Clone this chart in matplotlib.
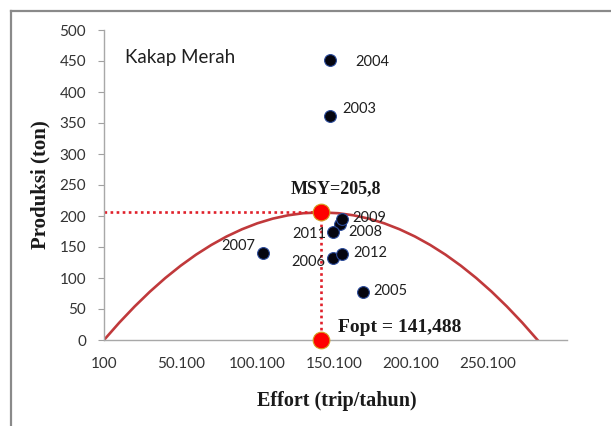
import matplotlib
matplotlib.use("Agg")
import matplotlib.pyplot as plt
from matplotlib.lines import Line2D

# observed catch vs effort per year
years = ["2003", "2004", "2005", "2006", "2007", "2008", "2009", "2011", "2012"]
effort = [147500, 147500, 169000, 149500, 103800, 154000, 155300, 149500, 155300]
produksi = [362, 452, 78, 133, 140, 187, 195, 175, 138]
label_offsets = [(12, 7), (25, -2), (10, 1), (-8, -4), (-8, 7), (8, -8), (10, 1), (-7, -2), (11, 1)]

# surplus production curve
curve_effort = [100, 10100, 20100, 30100, 40100, 50100, 60100, 70100, 80100, 90100,
                100100, 110100, 120100, 130100, 141488, 152876, 162876, 172876, 182876,
                192876, 202876, 212876, 222876, 232876, 242876, 252876, 262876, 272876, 282876]
curve_prod = [0, 28.1, 54.1, 78.1, 100.0, 119.8, 137.6, 153.3, 167.0, 178.6,
              188.2, 195.7, 201.1, 204.5, 205.8, 204.5, 201.1, 195.7, 188.2,
              178.6, 167.0, 153.3, 137.6, 119.8, 100.0, 78.1, 54.1, 28.1, 0]

fopt = 141488
msy = 205.8

xticks = [100, 50100, 100100, 150100, 200100, 250100]
xtick_labels = ["100", "50.100", "100.100", "150.100", "200.100", "250.100"]
yticks = list(range(0, 501, 50))

fig = plt.figure(figsize=(6.11, 4.26), dpi=100)
ax = fig.add_axes([104 / 611, 86 / 426, 463 / 611, 310 / 426])

ax.plot(curve_effort, curve_prod, color="#c0393b", lw=1.9, zorder=2)
ax.plot([100, fopt], [msy, msy], color="#e0202a", lw=1.9, ls=(0, (1, 1.3)), zorder=2)
ax.plot([fopt, fopt], [msy, 0], color="#e0202a", lw=1.9, ls=(0, (1, 1.3)), zorder=2)

ax.plot(effort, produksi, "o", ms=8.5, color="#05050f", mec="#2a4a9a", mew=0.8,
        ls="none", zorder=3)
ax.plot([fopt, fopt], [msy, 0], "o", ms=12, color="#ff0000", mec="#d4a020",
        mew=0.8, ls="none", zorder=4, clip_on=False)

for yr, x, y, off in zip(years, effort, produksi, label_offsets):
    ax.annotate(yr, (x, y), xytext=off, textcoords="offset pixels",
                ha="left" if off[0] > 0 else "right", va="center",
                fontsize=10.5, family="Lato", color="#1f1f1f")

serif_bold = dict(family="Liberation Serif", fontweight="bold", color="#1a1a1a")
ax.annotate("MSY=205,8", (fopt, msy), xytext=(15, 24), textcoords="offset pixels",
            ha="center", va="center", fontsize=13, **serif_bold)
ax.annotate("Fopt = 141,488", (fopt, 0), xytext=(17, 12), textcoords="offset pixels",
            ha="left", va="center", fontsize=14, **serif_bold)

ax.text(0.045, 0.91, "Kakap Merah", transform=ax.transAxes, fontsize=13.5,
        family="Lato", color="#1f1f1f", va="center")

ax.set_xlim(100, 302100)
ax.set_ylim(0, 500)
ax.set_xticks(xticks)
ax.set_xticklabels(xtick_labels)
ax.set_yticks(yticks)
ax.tick_params(axis="y", direction="out", length=4, color="#a0a0a0", pad=9,
               labelsize=11, labelcolor="#333333")
ax.tick_params(axis="x", length=0, pad=12, labelsize=11, labelcolor="#333333")
for lab in ax.get_xticklabels() + ax.get_yticklabels():
    lab.set_family("Lato")

for side in ["top", "right"]:
    ax.spines[side].set_visible(False)
for side in ["left", "bottom"]:
    ax.spines[side].set_color("#a8a8a8")
    ax.spines[side].set_linewidth(1.0)

ax.set_xlabel("Effort (trip/tahun)", fontsize=14.5, **serif_bold)
ax.set_ylabel("Produksi (ton)", fontsize=15, **serif_bold)
ax.xaxis.set_label_coords(0.503, -0.165)
ax.yaxis.set_label_coords(-0.115, 0.5)

# frame of the screenshot (top and left edges)
fig.add_artist(Line2D([11 / 611, 1], [1 - 11 / 426, 1 - 11 / 426],
                      transform=fig.transFigure, color="#8a8a8a", lw=1.6))
fig.add_artist(Line2D([11 / 611, 11 / 611], [0, 1 - 11 / 426],
                      transform=fig.transFigure, color="#8a8a8a", lw=1.6))

fig.savefig("out.png", dpi=100)
